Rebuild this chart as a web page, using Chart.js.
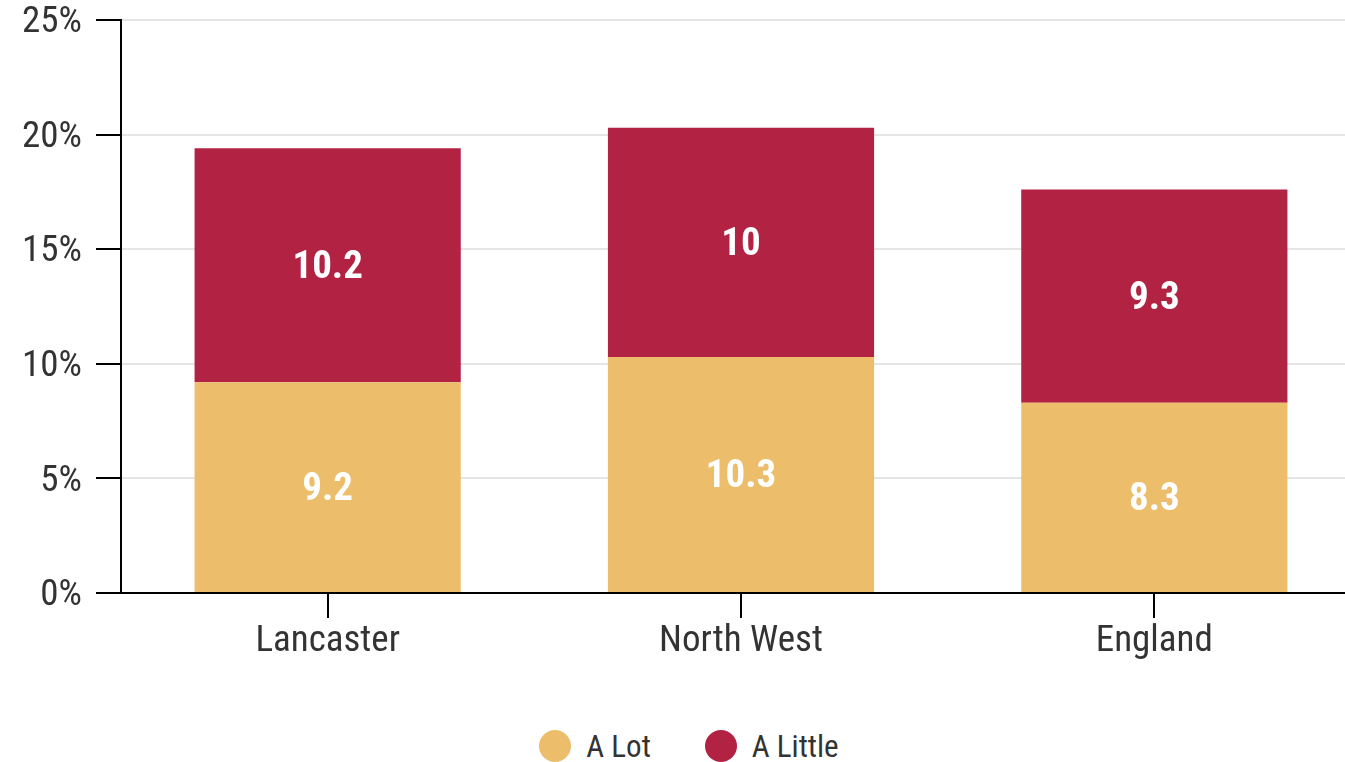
<!DOCTYPE html>
<html>
<head>
<meta charset="utf-8">
<script src="https://cdn.jsdelivr.net/npm/chart.js@4"></script>
<style>
  html, body { margin: 0; padding: 0; background: #fff; overflow: hidden; }
  #wrap { width: 1366px; height: 700px; position: relative; }
  #legend {
    display: flex; justify-content: center; align-items: center;
    box-sizing: border-box; width: 1345px; padding-left: 33px;
    margin-top: 30px; height: 32px;
    font-family: 'Roboto Condensed', Roboto, sans-serif; font-size: 31px; color: #333;
  }
  .item { display: flex; align-items: center; margin: 0 27px; }
  .dot { width: 32px; height: 32px; border-radius: 50%; margin-right: 15px; }
</style>
</head>
<body>
<div id="wrap"><canvas id="c"></canvas></div>
<div id="legend"></div>
<script>
// 数据
const categories = ['Lancaster', 'North West', 'England'];
const aLot = [9.2, 10.3, 8.3];
const aLittle = [10.2, 10, 9.3];
const seriesNames = ['A Lot', 'A Little'];
const seriesColors = ['#ECBE6C', '#B22243'];
const yTicks = [0, 5, 10, 15, 20, 25];

const fontFamily = "'Roboto Condensed', Roboto, sans-serif";

// 在柱子中间写数值
const barLabels = {
  id: 'barLabels',
  afterDatasetsDraw(chart) {
    const ctx = chart.ctx;
    ctx.save();
    ctx.fillStyle = '#fff';
    ctx.font = 'bold 39px ' + fontFamily;
    ctx.textAlign = 'center';
    ctx.textBaseline = 'middle';
    chart.data.datasets.forEach((ds, i) => {
      chart.getDatasetMeta(i).data.forEach((bar, j) => {
        const y = (bar.y + bar.base) / 2 + 3;
        ctx.fillText(String(ds.data[j]), bar.x, y);
      });
    });
    ctx.restore();
  }
};

new Chart(document.getElementById('c'), {
  type: 'bar',
  data: {
    labels: categories,
    datasets: [
      { label: seriesNames[0], data: aLot, backgroundColor: seriesColors[0] },
      { label: seriesNames[1], data: aLittle, backgroundColor: seriesColors[1] }
    ]
  },
  options: {
    responsive: true,
    maintainAspectRatio: false,
    animation: false,
    layout: { padding: { top: 20, right: 5 } },
    datasets: { bar: { barPercentage: 0.644, categoryPercentage: 1 } },
    plugins: { legend: { display: false }, tooltip: { enabled: false } },
    scales: {
      x: {
        stacked: true,
        border: { color: '#000', width: 2 },
        grid: { offset: false, drawOnChartArea: false, tickLength: 25, tickColor: '#000', lineWidth: 2 },
        ticks: { color: '#333', padding: 2, font: { family: fontFamily, size: 37 } },
        afterFit(scale) { scale.height = 107; }
      },
      y: {
        stacked: true,
        min: 0,
        max: 25,
        border: { color: '#000', width: 2 },
        grid: { color: '#e5e5e5', lineWidth: 2, tickLength: 25, tickColor: '#000' },
        afterBuildTicks(scale) { scale.ticks = yTicks.map(v => ({ value: v })); },
        ticks: {
          color: '#333', padding: 14,
          // 两行标签（第一行为空）让文字略低于刻度线
          font: { family: fontFamily, size: 37, lineHeight: 0.16 },
          callback: v => ['', v + '%']
        },
        afterFit(scale) { scale.width = 121; }
      }
    }
  },
  plugins: [barLabels]
});

// 图例
const legend = document.getElementById('legend');
seriesNames.forEach((name, i) => {
  const item = document.createElement('div');
  item.className = 'item';
  const dot = document.createElement('span');
  dot.className = 'dot';
  dot.style.backgroundColor = seriesColors[i];
  const text = document.createElement('span');
  text.textContent = name;
  item.appendChild(dot);
  item.appendChild(text);
  legend.appendChild(item);
});
</script>
</body>
</html>
